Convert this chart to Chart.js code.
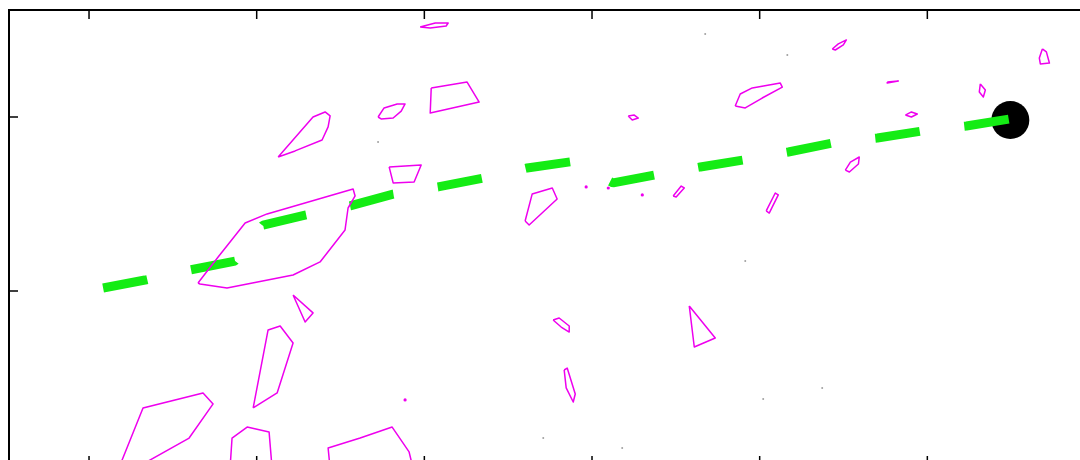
<!DOCTYPE html>
<html>
<head>
<meta charset="utf-8">
<script src="https://cdn.jsdelivr.net/npm/chart.js@4"></script>
<style>
  html, body { margin: 0; padding: 0; background: #fff; overflow: hidden; }
  #plot { display: block; }
</style>
</head>
<body>
<canvas id="plot" width="1110" height="480"></canvas>
<script>
// tick positions (no labels in the original)
const xTicks = [0, 1, 2, 3, 4, 5, 6];
const yTicks = [0, 1, 2];

// dashed green track
const pathX = [0.084, 0.334, 0.603, 0.871, 1.038, 1.295, 1.557, 1.814, 2.082, 2.351, 2.613,
               2.876, 3.126, 3.377, 3.646, 3.902, 4.171, 4.439, 4.702, 4.970, 5.233, 5.495];
const pathY = [1.017, 1.063, 1.121, 1.172, 1.379, 1.437, 1.489, 1.557, 1.598, 1.649, 1.707,
               1.743, 1.621, 1.667, 1.713, 1.753, 1.799, 1.851, 1.879, 1.920, 1.948, 1.989];

// end point (black marker)
const endX = [5.495];
const endY = [1.983];

// magenta contour loops
const contours = [
  [[1.128, 1.770], [1.336, 2.000], [1.408, 2.029], [1.438, 2.006], [1.426, 1.943], [1.390, 1.868], [1.229, 1.805]],
  [[1.975, 2.517], [2.065, 2.540], [2.142, 2.540], [2.130, 2.523], [2.035, 2.511]],
  [[1.724, 2.000], [1.760, 2.052], [1.838, 2.075], [1.885, 2.075], [1.862, 2.034], [1.814, 1.994], [1.742, 1.989]],
  [[2.041, 2.167], [2.255, 2.201], [2.327, 2.086], [2.035, 2.023]],
  [[3.216, 2.006], [3.252, 2.011], [3.276, 1.994], [3.240, 1.983]],
  [[4.433, 2.391], [4.469, 2.420], [4.517, 2.443], [4.499, 2.414], [4.451, 2.385]],
  [[3.854, 2.063], [3.884, 2.132], [3.956, 2.167], [4.123, 2.195], [4.135, 2.172], [4.015, 2.109], [3.914, 2.052]],
  [[4.761, 2.201], [4.827, 2.207], [4.761, 2.195]],
  [[4.869, 2.011], [4.905, 2.029], [4.940, 2.017], [4.905, 2.000]],
  [[5.316, 2.190], [5.346, 2.155], [5.334, 2.115], [5.310, 2.144]],
  [[5.686, 2.391], [5.710, 2.374], [5.728, 2.310], [5.674, 2.305], [5.668, 2.339]],
  [[0.650, 1.046], [0.770, 1.195], [0.931, 1.391], [1.062, 1.443], [1.575, 1.586], [1.587, 1.546],
   [1.545, 1.477], [1.527, 1.351], [1.378, 1.167], [1.217, 1.092], [0.823, 1.017], [0.662, 1.040]],
  [[1.790, 1.713], [1.981, 1.724], [1.939, 1.626], [1.814, 1.621]],
  [[2.601, 1.402], [2.643, 1.557], [2.763, 1.592], [2.792, 1.529], [2.625, 1.379]],
  [[3.484, 1.546], [3.532, 1.603], [3.550, 1.592], [3.502, 1.540]],
  [[4.511, 1.695], [4.541, 1.741], [4.594, 1.770], [4.589, 1.730], [4.535, 1.684]],
  [[4.039, 1.460], [4.093, 1.563], [4.111, 1.552], [4.057, 1.448]],
  [[1.217, 0.977], [1.336, 0.874], [1.289, 0.822]],
  [[0.979, 0.328], [1.068, 0.776], [1.140, 0.799], [1.217, 0.701], [1.122, 0.414]],
  [[0.177, -0.02], [0.322, 0.328], [0.680, 0.414], [0.740, 0.351], [0.597, 0.155], [0.274, -0.02]],
  [[0.841, -0.02], [0.853, 0.155], [0.943, 0.218], [1.074, 0.190], [1.092, -0.02]],
  [[1.438, -0.02], [1.426, 0.098], [1.617, 0.155], [1.808, 0.218], [1.909, 0.075], [1.933, -0.02]],
  [[2.768, 0.833], [2.804, 0.845], [2.864, 0.799], [2.864, 0.764], [2.816, 0.793]],
  [[2.834, 0.546], [2.852, 0.557], [2.900, 0.408], [2.888, 0.362], [2.846, 0.443]],
  [[3.580, 0.914], [3.735, 0.730], [3.610, 0.678]]
];

// isolated magenta dots
const dotX = [2.965, 3.097, 3.300, 1.885];
const dotY = [1.598, 1.592, 1.552, 0.374];

// faint grey specks
const speckX = [4.165, 3.675, 1.724, 3.914, 2.709, 3.180, 4.373, 4.021];
const speckY = [2.356, 2.477, 1.856, 1.172, 0.155, 0.098, 0.443, 0.379];

const MAGENTA = 'rgb(238, 0, 238)';
const GREEN = 'rgb(20, 236, 20)';

const zip = (xs, ys) => xs.map((x, i) => ({ x: x, y: ys[i] }));

const contourData = [];
contours.forEach(loop => {
  loop.forEach(p => contourData.push({ x: p[0], y: p[1] }));
  contourData.push({ x: loop[0][0], y: loop[0][1] });
  contourData.push({ x: loop[0][0], y: null });
});

// gnuplot-style frame with inward ticks
const framePlugin = {
  id: 'frame',
  afterDraw(chart) {
    const ctx = chart.ctx;
    const a = chart.chartArea;
    const sx = chart.scales.x;
    const sy = chart.scales.y;
    ctx.save();
    ctx.strokeStyle = '#000';
    ctx.lineWidth = 2;
    ctx.strokeRect(a.left, a.top, a.right - a.left, a.bottom - a.top);
    ctx.lineWidth = 1.5;
    ctx.beginPath();
    xTicks.forEach(v => {
      const px = sx.getPixelForValue(v);
      if (px <= a.left + 1 || px >= a.right - 1) return;
      ctx.moveTo(px, a.top);
      ctx.lineTo(px, a.top + 9);
      ctx.moveTo(px, a.bottom);
      ctx.lineTo(px, a.bottom - 9);
    });
    yTicks.forEach(v => {
      const py = sy.getPixelForValue(v);
      if (py <= a.top + 1 || py >= a.bottom - 1) return;
      ctx.moveTo(a.left, py);
      ctx.lineTo(a.left + 9, py);
      ctx.moveTo(a.right, py);
      ctx.lineTo(a.right - 9, py);
    });
    ctx.stroke();
    ctx.restore();
  }
};

new Chart(document.getElementById('plot'), {
  type: 'scatter',
  data: {
    datasets: [
      {
        label: 'contours',
        data: contourData,
        showLine: true,
        spanGaps: false,
        borderColor: MAGENTA,
        borderWidth: 1.5,
        borderJoinStyle: 'round',
        pointRadius: 0,
        tension: 0,
        order: 0
      },
      {
        label: 'dots',
        data: zip(dotX, dotY),
        pointRadius: 1.6,
        pointBorderWidth: 0,
        pointBackgroundColor: MAGENTA,
        order: 0
      },
      {
        label: 'specks',
        data: zip(speckX, speckY),
        pointRadius: 1,
        pointBorderWidth: 0,
        pointBackgroundColor: '#a0a0a0',
        order: 0
      },
      {
        label: 'track',
        data: zip(pathX, pathY),
        showLine: true,
        borderColor: GREEN,
        borderWidth: 9,
        borderDash: [45, 44.8],
        borderCapStyle: 'butt',
        borderJoinStyle: 'bevel',
        pointRadius: 0,
        tension: 0,
        order: 1
      },
      {
        label: 'end',
        data: zip(endX, endY),
        pointRadius: 19,
        pointBorderWidth: 0,
        pointBackgroundColor: '#000',
        order: 2
      }
    ]
  },
  options: {
    responsive: false,
    animation: false,
    events: [],
    layout: { autoPadding: false, padding: { left: 9, top: 10, right: 15, bottom: 15 } },
    plugins: {
      legend: { display: false },
      tooltip: { enabled: false }
    },
    scales: {
      x: { type: 'linear', display: false, min: -0.4773, max: 6 },
      y: { type: 'linear', display: false, min: 0, max: 2.6149 }
    }
  },
  plugins: [framePlugin]
});
</script>
</body>
</html>
